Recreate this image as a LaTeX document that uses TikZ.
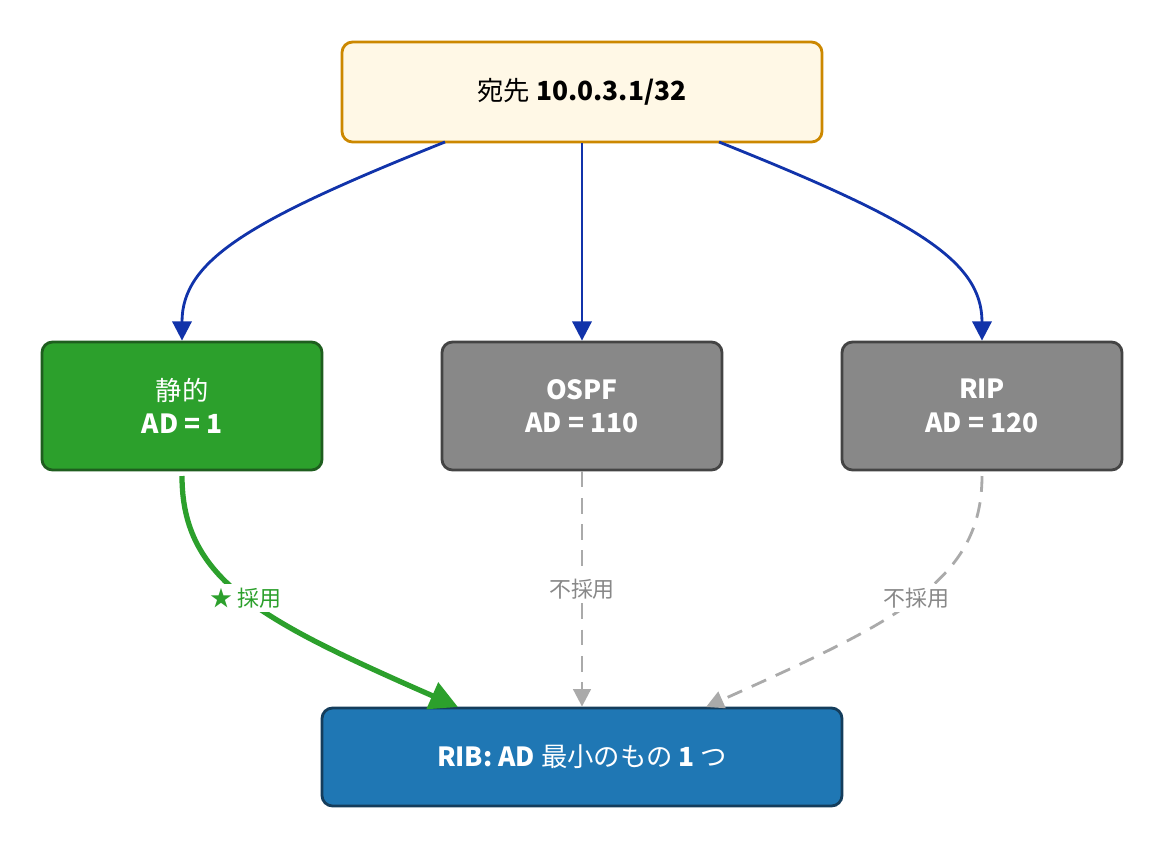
\documentclass[tikz,border=0pt]{standalone}
\usepackage{fontspec}
\setmainfont{Noto Sans CJK JP}
\usetikzlibrary{arrows.meta}
\definecolor{topfill}{HTML}{FFF8E6}
\definecolor{topline}{HTML}{CC8800}
\definecolor{okfill}{HTML}{2CA02C}
\definecolor{okline}{HTML}{1E5E1E}
\definecolor{ngfill}{HTML}{888888}
\definecolor{ngline}{HTML}{444444}
\definecolor{ribfill}{HTML}{1F77B4}
\definecolor{ribline}{HTML}{143D5C}
\definecolor{flow}{HTML}{1133AA}
\definecolor{dash}{HTML}{AAAAAA}
\begin{document}
\begin{tikzpicture}[x=0.02cm,y=-0.02cm]
            \tikzset{box/.style = {shape=rectangle,rounded corners=6pt,line width=1.6pt,align=center,font=\fontsize{15}{19}\selectfont}}
            \tikzset{edge/.style = {line width=1.6pt,color=flow,-{Triangle[length=11pt,width=11pt]}}}
            \tikzset{drop/.style = {line width=1.6pt,color=dash,dashed,dash pattern=on 9pt off 6pt,-{Triangle[length=10pt,width=10pt]}}}
            \tikzset{tag/.style = {fill=white,inner sep=2pt,font=\fontsize{12.5}{15}\selectfont}}
            \useasboundingbox (0,0) rectangle (1164,850);
            \node[box, fill=topfill, draw=topline, minimum width=480*0.02cm, minimum height=100*0.02cm] (dst) at (582,92) {宛先 \textbf{10.0.3.1/32}};
            \node[box, fill=okfill, draw=okline, text=white, minimum width=280*0.02cm, minimum height=128*0.02cm] (st) at (182,406) {静的\\\textbf{AD = 1}};
            \node[box, fill=ngfill, draw=ngline, text=white, minimum width=280*0.02cm, minimum height=128*0.02cm] (os) at (582,406) {\textbf{OSPF}\\\textbf{AD = 110}};
            \node[box, fill=ngfill, draw=ngline, text=white, minimum width=280*0.02cm, minimum height=128*0.02cm] (rp) at (982,406) {\textbf{RIP}\\\textbf{AD = 120}};
            \node[box, fill=ribfill, draw=ribline, text=white, minimum width=520*0.02cm, minimum height=98*0.02cm] (rib) at (582,757) {\textbf{RIB: AD} 最小のもの \textbf{1} つ};
            \draw[edge] (445,142) .. controls (250,220) and (182,260) .. (st.north);
            \draw[edge] (dst.south) -- (os.north);
            \draw[edge] (719,142) .. controls (914,220) and (982,260) .. (rp.north);
            \draw[line width=3pt,color=okfill,-{Triangle[length=16pt,width=16pt]}] (182,476) .. controls (182,580) and (260,620) .. (458,707) node[tag,text=okfill,pos=0.5] {★ 採用};
            \draw[drop] (os.south) -- (rib.north) node[tag,text=ngfill,pos=0.5] {不採用};
            \draw[drop] (982,476) .. controls (982,580) and (900,620) .. (706,707) node[tag,text=ngfill,pos=0.5] {不採用};
          \end{tikzpicture}
\end{document}
